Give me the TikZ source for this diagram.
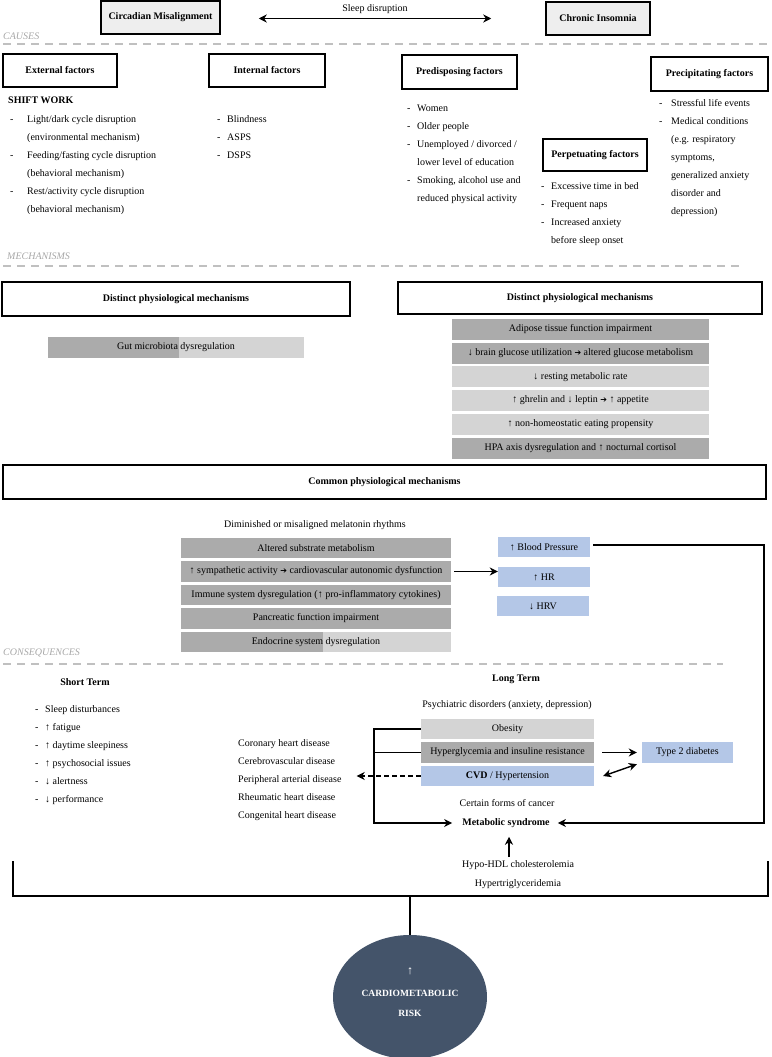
\documentclass[tikz,border=0pt]{standalone}
\usepackage{fontspec}
\setmainfont{Liberation Serif}
\newfontfamily\dejavu{DejaVu Sans}
\usetikzlibrary{arrows.meta,shapes.geometric,calc}
\definecolor{dgray}{HTML}{ABABAB}
\definecolor{lgray}{HTML}{D4D4D4}
\definecolor{tgray}{HTML}{EEEEEE}
\definecolor{bl}{HTML}{B4C7E7}
\definecolor{lab}{HTML}{A6A6A6}
\definecolor{sepc}{HTML}{C0C0C0}
\definecolor{navy}{HTML}{44546A}
\newcommand{\thickarrow}{{\dejavu\fontsize{8}{10}\selectfont ➔}}
\newcommand{\dl}[2]{\begin{tabular}[t]{@{}l@{\hspace{#1}}l@{}}#2\end{tabular}}
\renewcommand{\arraystretch}{1.5}
\begin{document}
\begin{tikzpicture}[x=1pt,y=-1pt,
  font=\fontsize{10}{12}\selectfont,
  every node/.style={inner sep=0pt},
  hdr/.style={draw, line width=1.5pt, font=\fontsize{10}{12}\selectfont\bfseries},
  bold/.style={font=\fontsize{10}{12}\selectfont\bfseries},
  lst/.style={anchor=base west},
  lbl/.style={anchor=west, font=\fontsize{10}{12}\selectfont\itshape, text=lab},
  sepl/.style={draw=sepc, line width=1.8pt, dash pattern=on 8pt off 6pt},
  bar/.style={minimum height=20.5, minimum width=270},
  ln/.style={line width=1.4pt},
  arr/.style={line width=1.4pt, -{Stealth[length=8pt,width=8pt,inset=2.5pt]}},
  arrtwo/.style={line width=1.4pt, {Stealth[length=8pt,width=8pt,inset=2.5pt]}-{Stealth[length=8pt,width=8pt,inset=2.5pt]}},
]
\useasboundingbox (0,0) rectangle (771,1057);

% ---------- top ----------
\node[hdr, fill=tgray, minimum width=119, minimum height=33] (cm) at (160.5,17.5) {Circadian Misalignment};
\node[hdr, fill=tgray, minimum width=104, minimum height=33] (ci) at (598,18.5) {Chronic Insomnia};
\draw[arrtwo] ($(cm.east)+(38,1)$) -- ($(cm.east -| ci.west)+(-54,1)$);
\node (sd) at (375,9) {Sleep disruption};

% ---------- causes ----------
\node[lbl] (lcause) at (3,36) {CAUSES};
\draw[sepl] (3,44) -- (771,44);

\node[hdr, minimum width=114, minimum height=33] (ext) at (60,70.5) {External factors};
\node[hdr, minimum width=116, minimum height=33] (int) at (267,70.5) {Internal factors};
\node[hdr, minimum width=115, minimum height=34] (pre) at (459.5,72) {Predisposing factors};
\node[hdr, minimum width=117, minimum height=34] (prc) at (709.5,74) {Precipitating factors};
\node[hdr, minimum width=104, minimum height=32] (per) at (595,155) {Perpetuating factors};

\node[lst, bold] (sw) at (8,103.5) {SHIFT WORK};
\node[lst] (swl) at (10,122.5) {\dl{13.7pt}{-&Light/dark cycle disruption\\&(environmental mechanism)\\-&Feeding/fasting cycle disruption\\&(behavioral mechanism)\\-&Rest/activity cycle disruption\\&(behavioral mechanism)}};
\node[lst] (inl) at (217,122.5) {\dl{6.7pt}{-&Blindness\\-&ASPS\\-&DSPS}};
\node[lst] (prel) at (407,111.5) {\dl{6.7pt}{-&Women\\-&Older people\\-&Unemployed / divorced /\\&lower level of education\\-&Smoking, alcohol use and\\&reduced physical activity}};
\node[lst] (perl) at (541,189.5) {\dl{6.7pt}{-&Excessive time in bed\\-&Frequent naps\\-&Increased anxiety\\&before sleep onset}};
\node[lst] (prcl) at (659,106.5) {\dl{8.7pt}{-&Stressful life events\\-&Medical conditions\\&(e.g. respiratory\\&symptoms,\\&generalized anxiety\\&disorder and\\&depression)}};

% ---------- mechanisms ----------
\node[lbl] (lmech) at (7,256) {MECHANISMS};
\draw[sepl] (3,266) -- (743,266);

\node[hdr, minimum width=348, minimum height=34] (dleft) at (176,299) {Distinct physiological mechanisms};
\node[hdr, minimum width=364, minimum height=32] (dright) at (580,298) {Distinct physiological mechanisms};

\fill[dgray] (48,337) rectangle (179,358);
\fill[lgray] (179,337) rectangle (304,358);
\node (gut) at (176,347.5) {Gut microbiota dysregulation};

\node[bar, minimum width=257, minimum height=21, fill=dgray] (r1) at (580.5,329.5) {Adipose tissue function impairment};
\node[bar, minimum width=257, minimum height=21, fill=dgray] (r2) at (580.5,353.2) {↓ brain glucose utilization \thickarrow\ altered glucose metabolism};
\node[bar, minimum width=257, minimum height=21, fill=lgray] (r3) at (580.5,376.9) {↓ resting metabolic rate};
\node[bar, minimum width=257, minimum height=21, fill=lgray] (r4) at (580.5,400.6) {↑ ghrelin and ↓ leptin \thickarrow\ ↑ appetite};
\node[bar, minimum width=257, minimum height=21, fill=lgray] (r5) at (580.5,424.3) {↑ non-homeostatic eating propensity};
\node[bar, minimum width=257, minimum height=21, fill=dgray] (r6) at (580.5,448) {HPA axis dysregulation and ↑ nocturnal cortisol};

\node[hdr, minimum width=763, minimum height=34] (cpm) at (384.5,482) {Common physiological mechanisms};
\node (mel) at (315,525) {Diminished or misaligned melatonin rhythms};

\node[bar, fill=dgray] (c1) at (316,548) {Altered substrate metabolism};
\node[bar, fill=dgray] (c2) at (316,571.5) {↑ sympathetic activity \thickarrow\ cardiovascular autonomic dysfunction};
\node[bar, fill=dgray] (c3) at (316,595) {Immune system dysregulation (↑ pro-inflammatory cytokines)};
\node[bar, fill=dgray] (c4) at (316,618.5) {Pancreatic function impairment};
\fill[dgray] (181,632) rectangle (323,652);
\fill[lgray] (323,632) rectangle (451,652);
\node (c5) at (316,642) {Endocrine system dysregulation};

\node[bar, fill=bl, minimum width=92, minimum height=20] (bp) at (544,547) {↑ Blood Pressure};
\node[bar, fill=bl, minimum width=92, minimum height=20] (hr) at (544,577) {↑ HR};
\node[bar, fill=bl, minimum width=92, minimum height=20] (hrv) at (543,606) {↓ HRV};
\draw[arr] ($(c2.east)+(3,0)$) -- (c2.east -| hr.west);

% ---------- consequences ----------
\node[lbl] (lcons) at (3,653) {CONSEQUENCES};
\draw[sepl] (3,664) -- (723,664);

\node[bold] (st) at (85,682) {Short Term};
\node[lst] (stl) at (35,712.5) {\dl{6.7pt}{-&Sleep disturbances\\-&↑ fatigue\\-&↑ daytime sleepiness\\-&↑ psychosocial issues\\-&↓ alertness\\-&↓ performance}};
\node[lst] (dis) at (238,746.5) {\begin{tabular}[t]{@{}l@{}}Coronary heart disease\\Cerebrovascular disease\\Peripheral arterial disease\\Rheumatic heart disease\\Congenital heart disease\end{tabular}};

\node[bold] (lt) at (516,679) {Long Term};
\node (psy) at (507,705) {Psychiatric disorders (anxiety, depression)};
\node[bar, fill=lgray, minimum width=173, minimum height=20.5] (ob) at (507.5,729) {Obesity};
\node[bar, fill=dgray, minimum width=173, minimum height=20.5] (hy) at (507.5,752.5) {Hyperglycemia and insuline resistance};
\node[bar, fill=bl, minimum width=173, minimum height=20.5] (cvd) at (507.5,776) {\textbf{CVD} / Hypertension};
\node (cf) at (507,803) {Certain forms of cancer};
\node[bold] (ms) at (506,823) {Metabolic syndrome};
\node[bar, fill=bl, minimum width=91, minimum height=21] (t2d) at (687.5,752.5) {Type 2 diabetes};

\draw[arr] ($(hy.east)+(8,0)$) -- ($(t2d.west)+(-5,0)$);
\draw[arrtwo] ($(cvd.east)+(9,0)$) -- ($(t2d.south west)+(-5,1)$);

\coordinate (bk) at (374,823);
\draw[arr] (ob.west) -| (bk) -- ($(ms.west)+(-10,0)$);
\draw[ln] (hy.west) -- (hy.west -| bk);
\draw[arr, dash pattern=on 5pt off 3pt] (cvd.west) -- ($(dis.east |- cvd.west)+(15,0)$);

\coordinate (rc) at (764,700);
\draw[arr] ($(bp.east)+(3,-2)$) -| (rc) |- ($(ms.east)+(8,0)$);

\coordinate (up) at (509,857);
\draw[arr] (up) -- ($(up |- ms.south)+(0,9)$);

% ---------- bottom ----------
\node (hdl) at (518,865) {Hypo-HDL cholesterolemia};
\node (htg) at (518,884) {Hypertriglyceridemia};
\coordinate (bl) at (13,861);
\coordinate (br) at (768,861);
\coordinate (bm) at (410,896);
\draw[ln] (bl) |- (br |- bm) -- (br);

\node[ellipse, fill=navy, minimum width=154, minimum height=124] (risk) at (410,997) {};
\draw[ln] (bm) -- (risk.north);
\node[text=white, font=\fontsize{12}{12}\selectfont] (ra) at (410,971) {↑};
\node[text=white, font=\fontsize{9.5}{12}\selectfont\bfseries] (rb) at (410,993) {CARDIOMETABOLIC};
\node[text=white, font=\fontsize{9.5}{12}\selectfont\bfseries] (rcx) at (410,1013) {RISK};
\end{tikzpicture}
\end{document}
